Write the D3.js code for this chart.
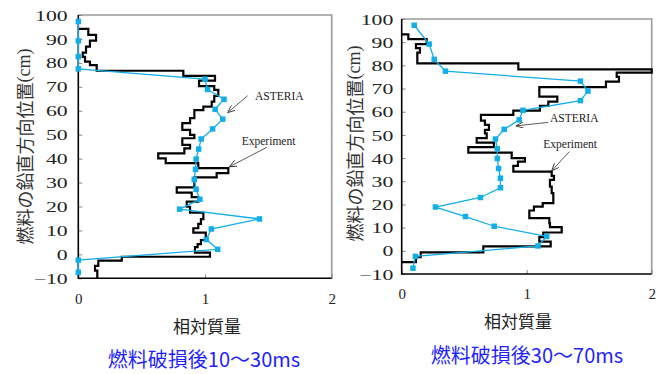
<!DOCTYPE html>
<html><head><meta charset="utf-8">
<script src="https://cdn.jsdelivr.net/npm/d3@7"></script>
<style>
body{margin:0;background:#fff}
svg{display:block}
</style>
</head><body>
<svg id="c" width="664" height="374"></svg>
<script>
// ASTERIA node heights (cm), shared by both time windows
const asteriaHeight = [97.3, 89.2, 82.6, 77.5, 73.2, 68.9, 64.8, 60.6, 56.5, 52.4, 48.2, 44.0, 39.8, 35.5, 31.3, 27.2, 23.0, 18.9, 14.8, 10.6, 6.2, 2.1, -2.4, -7.5];
// ASTERIA relative mass, 10-30 ms and 30-70 ms after failure
const asteriaEarly = [0, 0, 0, 0, 1.0, 1.02, 1.15, 1.08, 1.14, 1.06, 0.97, 0.95, 0.93, 0.925, 0.915, 0.93, 0.96, 0.80, 1.43, 1.05, 1.01, 1.10, 0, 0];
const asteriaLate = [0.10, 0.22, 0.26, 0.35, 1.43, 1.49, 1.43, 0.97, 0.94, 0.82, 0.75, 0.765, 0.765, 0.775, 0.79, 0.79, 0.63, 0.27, 0.51, 0.74, 1.16, 1.09, 0.11, 0.09];

// Experiment, 10-30 ms: bin edges (cm, top to bottom) and relative mass per bin
const expEarlyEdges = [94.2, 91.7, 89.3, 86.8, 84.3, 82.5, 80.5, 79.1, 76.7, 74.6, 72.6, 70.3, 68.7, 66.2, 63.8, 61.7, 60.3, 56.9, 54.8, 52.0, 49.9, 48.5, 45.7, 44.3, 42.2, 40.1, 38.1, 36.0, 33.9, 32.2, 28.0, 25.8, 23.9, 22.0, 19.9, 17.4, 14.7, 12.7, 10.9, 9.1, 6.0, 4.3, 3.0, 0.7, -1.0, -2.6, -4.8, -6.8, -10];
const expEarlyMass = [0.079, 0.140, 0.092, 0.061, 0.035, 0.053, 0.092, 0.145, 0.829, 1.079, 0.953, 1.073, 1.105, 1.073, 1.053, 0.987, 0.916, 0.882, 0.821, 0.882, 0.916, 0.821, 0.882, 0.837, 0.631, 0.690, 0.947, 1.184, 1.092, 0.916, 0.777, 0.895, 0.947, 0.856, 0.882, 0.987, 0.968, 0.947, 0.908, 1.006, 0.968, 0.942, 0.921, 1.039, 0.343, 0.158, 0.132, 0.150];

// Experiment, 30-70 ms
const expLateEdges = [93.4, 91.3, 89.2, 87.4, 85.5, 80.9, 78.3, 76.9, 75.0, 73.0, 70.6, 66.5, 64.4, 62.5, 60.5, 58.6, 56.2, 54.3, 52.2, 50.7, 48.6, 46.7, 44.7, 42.4, 40.0, 38.5, 36.6, 34.2, 32.3, 30.6, 27.7, 24.9, 20.6, 19.1, 17.4, 14.1, 11.9, 10.2, 7.9, 5.9, 4.0, 1.9, -0.7, -2.7, -4.9];
const expLateMass = [0.053, 0.200, 0.114, 0.146, 0.125, 0.933, 2.0, 1.72, 1.738, 1.634, 1.101, 1.245, 1.173, 1.106, 0.893, 0.634, 0.666, 0.698, 0.666, 0.680, 0.600, 0.738, 0.533, 0.880, 0.986, 0.930, 0.893, 1.200, 1.218, 1.186, 1.200, 1.213, 1.128, 1.058, 1.021, 1.181, 1.186, 1.280, 1.133, 1.101, 1.192, 0.653, 0.152, 0.114];

const yTicks = [-10, 0, 10, 20, 30, 40, 50, 60, 70, 80, 90, 100];
const xTicks = [0, 1, 2];
const titles = ["燃料破損後10～30ms", "燃料破損後30～70ms"];

const BLUE = "#12aee8";
const svg = d3.select("#c");

svg.append("defs").append("marker")
  .attr("id", "arr").attr("viewBox", "0 0 10 8")
  .attr("refX", 9.5).attr("refY", 4)
  .attr("markerWidth", 8).attr("markerHeight", 6.4)
  .attr("markerUnits", "userSpaceOnUse").attr("orient", "auto")
  .append("path").attr("d", "M0,0 L9.5,4 L0,8")
  .attr("fill", "none").attr("stroke", "#333").attr("stroke-width", 1.1);

const panels = [
  {
    left: 78.3, right: 331.7, top: 15, bottom: 278.3,
    mass: asteriaEarly, edges: expEarlyEdges, exp: expEarlyMass, closeToAxis: false,
    labelGap: 10.6, xLabelY: 304, yTitle: [24, 146.5], xTitle: [207, 325], title: [204, 358],
    notes: [
      {text: "ASTERIA", at: [1.395, 64.5], from: [1.337, 66.3], to: [1.179, 59.2]},
      {text: "Experiment", at: [1.29, 45.7], from: [1.487, 44.7], to: [1.192, 36.6]}
    ]
  },
  {
    left: 401.7, right: 651.7, top: 19, bottom: 274,
    mass: asteriaLate, edges: expLateEdges, exp: expLateMass, closeToAxis: true,
    labelGap: 8.4, xLabelY: 299, yTitle: [353.5, 143.5], xTitle: [518, 320], title: [527, 354],
    notes: [
      {text: "ASTERIA", at: [1.186, 55.6], from: [1.17, 55.4], to: [0.914, 53.9]},
      {text: "Experiment", at: [1.133, 44.3], from: [1.341, 42.8], to: [1.2, 34.5]}
    ]
  }
];

panels.forEach((p, i) => {
  const x = d3.scaleLinear().domain([0, 2]).range([p.left, p.right]);
  const y = d3.scaleLinear().domain([-10, 100]).range([p.bottom, p.top]);
  const g = svg.append("g");

  // frame: grey top/right, black axes
  g.append("path")
    .attr("d", `M${p.left},${p.top}H${p.right}V${p.bottom}`)
    .attr("fill", "none").attr("stroke", "#9a9a9a").attr("stroke-width", 1.6);

  // y axis ticks (inside) and labels
  const ya = g.append("g").attr("transform", `translate(${p.left},0)`)
    .call(d3.axisLeft(y).tickValues(yTicks).tickSize(-4).tickFormat(d3.format("d")));
  ya.select(".domain").remove();
  ya.selectAll(".tick line").attr("stroke", "#888").attr("stroke-width", 1);
  const sx = 1.45;
  ya.selectAll(".tick text")
    .attr("x", -p.labelGap / sx).attr("dy", "0.34em")
    .attr("transform", `scale(${sx},1)`)
    .style("font-family", "'Liberation Serif', serif").style("font-size", "15px")
    .attr("fill", "#222");

  // x axis ticks (inside) and labels
  const xa = g.append("g").attr("transform", `translate(0,${p.bottom})`)
    .call(d3.axisBottom(x).tickValues(xTicks).tickSize(-4).tickFormat(d3.format("d")));
  xa.select(".domain").remove();
  xa.selectAll(".tick line").attr("stroke", "#888").attr("stroke-width", 1);
  xa.selectAll(".tick text")
    .attr("y", p.xLabelY - p.bottom).attr("dy", "0")
    .style("font-family", "'Liberation Serif', serif").style("font-size", "15px")
    .attr("fill", "#222");

  g.append("path")
    .attr("d", `M${p.left},${p.top}V${p.bottom}H${p.right}`)
    .attr("fill", "none").attr("stroke", "#000").attr("stroke-width", 1.6);

  // experiment step profile
  const pts = [[0, p.edges[0]]];
  p.exp.forEach((m, k) => { pts.push([m, p.edges[k]], [m, p.edges[k + 1]]); });
  if (p.closeToAxis) pts.push([0, p.edges[p.edges.length - 1]]);
  const line = d3.line().x(d => x(d[0])).y(d => y(d[1]));
  g.append("path").attr("d", line(pts))
    .attr("fill", "none").attr("stroke", "#000").attr("stroke-width", 2.2)
    .attr("stroke-linejoin", "miter");

  // ASTERIA profile
  const ast = p.mass.map((m, k) => [m, asteriaHeight[k]]);
  g.append("path").attr("d", line(ast))
    .attr("fill", "none").attr("stroke", BLUE).attr("stroke-width", 1.3);
  const s = 5.5;
  g.selectAll("rect.pt").data(ast).join("rect").attr("class", "pt")
    .attr("x", d => x(d[0]) - s / 2).attr("y", d => y(d[1]) - s / 2)
    .attr("width", s).attr("height", s).attr("fill", BLUE);

  // annotations
  p.notes.forEach(n => {
    g.append("line")
      .attr("x1", x(n.from[0])).attr("y1", y(n.from[1]))
      .attr("x2", x(n.to[0])).attr("y2", y(n.to[1]))
      .attr("stroke", "#333").attr("stroke-width", 0.8)
      .attr("marker-end", "url(#arr)");
    g.append("text").attr("x", x(n.at[0])).attr("y", y(n.at[1]))
      .text(n.text)
      .style("font-family", "'Liberation Serif', serif").style("font-size", "11.5px")
      .attr("fill", "#222");
  });

  // axis titles
  const yt = g.append("text")
    .attr("transform", `translate(${p.yTitle[0]},${p.yTitle[1]}) rotate(-90)`)
    .attr("text-anchor", "middle").attr("dominant-baseline", "central")
    .attr("fill", "#333");
  yt.append("tspan").text("燃料の鉛直方向位置")
    .style("font-family", "'Noto Sans CJK JP', sans-serif").style("font-size", "18px");
  yt.append("tspan").text("(cm)")
    .style("font-family", "'Liberation Serif', serif").style("font-size", "18px");

  g.append("text").attr("x", p.xTitle[0]).attr("y", p.xTitle[1])
    .attr("text-anchor", "middle").attr("dominant-baseline", "central")
    .style("font-family", "'Noto Sans CJK JP', sans-serif").style("font-size", "17px")
    .attr("fill", "#222").text("相対質量");

  g.append("text").attr("x", p.title[0]).attr("y", p.title[1])
    .attr("text-anchor", "middle").attr("dominant-baseline", "central")
    .style("font-family", "'Noto Sans CJK JP', sans-serif").style("font-size", "20px")
    .attr("fill", "#1f1fff").text(titles[i]);
});
</script>
</body></html>
